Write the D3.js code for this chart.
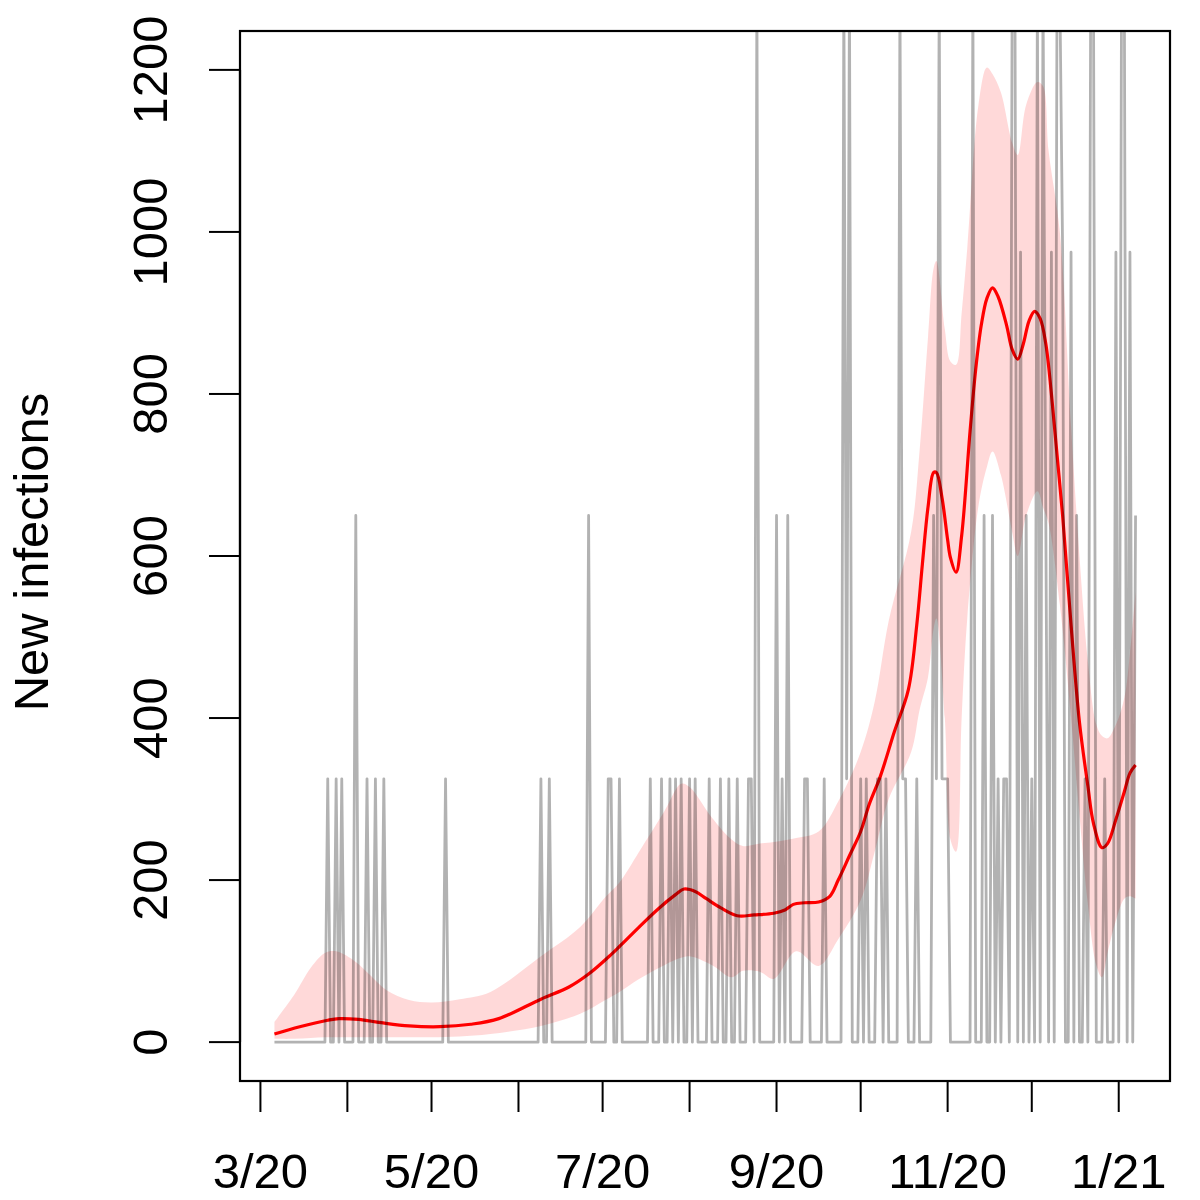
<!DOCTYPE html>
<html>
<head>
<meta charset="utf-8">
<script src="https://cdn.jsdelivr.net/npm/d3@7"></script>
<style>
  body { margin: 0; background: #fff; }
  text { font-family: "Liberation Sans", Arial, sans-serif; }
</style>
</head>
<body>
<div id="chart"></div>
<script>
const width = 1200
const height = 1200
const plot = { left: 240, right: 1170, top: 31, bottom: 1081 }

// first day of the series
const startDate = new Date(Date.UTC(2020, 2, 6))

// daily new infections (one value per day from startDate)
const newInfections = [
  0, 0, 0, 0, 0, 0, 0, 0, 0, 0,
  0, 0, 0, 0, 0, 0, 0, 0, 0, 325,
  0, 0, 325, 0, 325, 0, 0, 0, 0, 650,
  0, 0, 0, 325, 0, 0, 325, 0, 0, 325,
  0, 0, 0, 0, 0, 0, 0, 0, 0, 0,
  0, 0, 0, 0, 0, 0, 0, 0, 0, 0,
  0, 325, 0, 0, 0, 0, 0, 0, 0, 0,
  0, 0, 0, 0, 0, 0, 0, 0, 0, 0,
  0, 0, 0, 0, 0, 0, 0, 0, 0, 0,
  0, 0, 0, 0, 0, 325, 0, 0, 325, 0,
  0, 0, 0, 0, 0, 0, 0, 0, 0, 0,
  0, 0, 650, 0, 0, 0, 0, 0, 0, 325,
  325, 0, 0, 325, 0, 0, 0, 0, 0, 0,
  0, 0, 0, 0, 325, 0, 0, 0, 325, 0,
  0, 325, 0, 325, 0, 325, 0, 0, 325, 0,
  325, 0, 0, 0, 0, 325, 0, 0, 0, 325,
  0, 0, 325, 0, 0, 325, 0, 0, 0, 325,
  325, 0, 1300, 0, 0, 0, 0, 0, 0, 650,
  0, 325, 0, 650, 0, 0, 0, 0, 0, 325,
  325, 0, 0, 0, 0, 0, 325, 0, 0, 0,
  0, 0, 0, 1300, 325, 1300, 0, 0, 0, 325,
  0, 325, 0, 0, 0, 325, 325, 0, 325, 0,
  0, 0, 0, 1300, 325, 325, 0, 0, 0, 325,
  0, 0, 0, 0, 0, 650, 325, 1300, 325, 325,
  325, 0, 0, 0, 0, 0, 0, 0, 0, 1300,
  0, 0, 0, 650, 0, 0, 650, 0, 325, 0,
  325, 325, 0, 1300, 1300, 0, 975, 0, 650, 0,
  325, 0, 1300, 0, 1300, 650, 0, 975, 0, 1300,
  1300, 975, 0, 0, 975, 0, 650, 0, 0, 325,
  0, 1300, 1300, 0, 0, 0, 325, 0, 0, 0,
  975, 0, 1300, 1300, 0, 975, 0, 650
]

// smoothed estimate (days after startDate, value)
const fitDays = [0, 9, 19, 23, 30, 38, 48, 59, 70, 80,
  95, 105, 112, 120, 123, 130, 137, 143, 146, 150,
  154, 159, 165, 171, 178, 182, 185, 189, 194, 198,
  201, 205, 209, 212, 216, 221, 226, 229, 231, 233,
  235, 236, 238, 240, 241, 243, 245, 248, 250, 252,
  254, 256, 258, 261, 263, 265, 267, 269, 271, 273,
  275, 277, 279, 281, 284, 287, 290, 292, 295, 297,
  300, 303, 305, 307]
const fitValues = [10, 19, 27, 29, 28, 24, 20, 19, 22, 29,
  53, 68, 84, 108, 118, 142, 165, 182, 189, 186,
  177, 166, 156, 157, 159, 163, 170, 172, 173, 180,
  200, 230, 260, 293, 328, 383, 435, 515, 590, 660,
  703, 703, 672, 620, 598, 580, 625, 754, 830, 885,
  918, 931, 920, 885, 855, 843, 862, 890, 902, 893,
  862, 800, 725, 650, 515, 395, 316, 270, 240, 245,
  275, 309, 332, 342]

// uncertainty band
const bandDays = [0, 7, 13, 18, 22, 29, 34, 40, 48, 56,
  66, 77, 95, 109, 118, 123, 130, 139, 145, 148,
  156, 163, 167, 173, 178, 186, 194, 201, 209, 214,
  219, 227, 230, 233, 235, 236, 239, 241, 243, 245,
  247, 251, 254, 256, 259, 263, 265, 268, 272, 274,
  276, 280, 284, 287, 290, 293, 295, 297, 300, 303,
  305, 307]
const bandUpper = [25, 58, 92, 110, 112, 99, 83, 64, 52, 49,
  53, 62, 106, 142, 179, 197, 235, 285, 319, 315,
  277, 250, 242, 245, 247, 252, 260, 297, 358, 420,
  520, 630, 730, 870, 955, 964, 880, 840, 836, 900,
  980, 1157, 1203, 1195, 1172, 1110, 1095, 1157, 1185, 1180,
  1100, 1000, 760, 600, 470, 392, 378, 375, 392, 425,
  480, 556]
const bandLower = [4, 4, 5, 6, 6, 6, 6, 6, 6, 6,
  7, 10, 20, 35, 52, 62, 78, 95, 104, 106,
  95, 80, 88, 87, 78, 112, 94, 127, 175, 235,
  300, 358, 410, 450, 510, 523, 400, 250, 235, 400,
  523, 662, 710, 729, 700, 630, 600, 650, 680, 660,
  640, 540, 400, 280, 170, 95, 80, 110, 150, 177,
  180, 177]

const yTicks = [0, 200, 400, 600, 800, 1000, 1200]
const xTickDates = d3.utcMonth.range(new Date(Date.UTC(2020, 2, 1)), new Date(Date.UTC(2021, 0, 2)))
const xTickLabels = ["3/20", "", "5/20", "", "7/20", "", "9/20", "", "11/20", "", "1/21"]

const day = (k) => d3.utcDay.offset(startDate, k)
const firstDay = day(0)
const lastDay = day(newInfections.length - 1)
const pad = (lastDay - firstDay) * 0.04

var xScale = d3.scaleUtc([new Date(+firstDay - pad), new Date(+lastDay + pad)], [plot.left, plot.right])
var yScale = d3.scaleLinear([-48, 1248], [plot.bottom, plot.top])

var svg = d3.select("#chart")
  .append("svg")
  .attr("width", width)
  .attr("height", height)

svg.append("defs")
  .append("clipPath")
  .attr("id", "plotclip")
  .append("rect")
  .attr("x", plot.left)
  .attr("y", plot.top)
  .attr("width", plot.right - plot.left)
  .attr("height", plot.bottom - plot.top)

var inner = svg.append("g").attr("clip-path", "url(#plotclip)")

// band
var band = bandDays.map((k, i) => ({ date: day(k), lo: bandLower[i], hi: bandUpper[i] }))
inner.append("path")
  .datum(band)
  .attr("d", d3.area()
    .x((d) => xScale(d.date))
    .y0((d) => yScale(d.lo))
    .y1((d) => yScale(d.hi))
    .curve(d3.curveCatmullRom.alpha(0.5)))
  .style("fill", "rgba(255,0,0,0.15)")

// smoothed line
var fit = fitDays.map((k, i) => ({ date: day(k), value: fitValues[i] }))
inner.append("path")
  .datum(fit)
  .attr("d", d3.line()
    .x((d) => xScale(d.date))
    .y((d) => yScale(d.value))
    .curve(d3.curveCatmullRom.alpha(0.5)))
  .style("fill", "none")
  .style("stroke", "#ff0000")
  .style("stroke-width", "3.2px")

// daily counts, translucent so the red line shows through darker
var daily = newInfections.map((v, k) => ({ date: day(k), value: v }))
inner.append("path")
  .datum(daily)
  .attr("d", d3.line()
    .x((d) => xScale(d.date))
    .y((d) => yScale(d.value)))
  .style("fill", "none")
  .style("stroke", "rgba(0,0,0,0.3)")
  .style("stroke-width", "2.8px")
  .style("stroke-linejoin", "round")

// box
svg.append("rect")
  .attr("x", plot.left)
  .attr("y", plot.top)
  .attr("width", plot.right - plot.left)
  .attr("height", plot.bottom - plot.top)
  .style("fill", "none")
  .style("stroke", "#000")
  .style("stroke-width", "2.2px")

// x axis
var xAxis = svg.append("g")
xAxis.append("line")
  .attr("x1", xScale(xTickDates[0]))
  .attr("x2", xScale(xTickDates[xTickDates.length - 1]))
  .attr("y1", plot.bottom)
  .attr("y2", plot.bottom)
  .style("stroke", "#000")
  .style("stroke-width", "2.2px")
xAxis.selectAll("line.tick")
  .data(xTickDates)
  .enter()
  .append("line")
  .attr("class", "tick")
  .attr("x1", (d) => xScale(d))
  .attr("x2", (d) => xScale(d))
  .attr("y1", plot.bottom)
  .attr("y2", plot.bottom + 31)
  .style("stroke", "#000")
  .style("stroke-width", "2px")
xAxis.selectAll("text")
  .data(xTickDates)
  .enter()
  .append("text")
  .attr("x", (d) => xScale(d))
  .attr("y", 1188)
  .attr("text-anchor", "middle")
  .style("font-size", "49px")
  .text((_d, i) => xTickLabels[i])

// y axis
var yAxis = svg.append("g")
yAxis.append("line")
  .attr("x1", plot.left)
  .attr("x2", plot.left)
  .attr("y1", yScale(yTicks[0]))
  .attr("y2", yScale(yTicks[yTicks.length - 1]))
  .style("stroke", "#000")
  .style("stroke-width", "2.2px")
yAxis.selectAll("line.tick")
  .data(yTicks)
  .enter()
  .append("line")
  .attr("class", "tick")
  .attr("x1", plot.left - 31)
  .attr("x2", plot.left)
  .attr("y1", (d) => yScale(d))
  .attr("y2", (d) => yScale(d))
  .style("stroke", "#000")
  .style("stroke-width", "2px")
yAxis.selectAll("text")
  .data(yTicks)
  .enter()
  .append("text")
  .attr("transform", (d) => `translate(167,${yScale(d)}) rotate(-90)`)
  .attr("text-anchor", "middle")
  .style("font-size", "49px")
  .text((d) => d)

svg.append("text")
  .attr("transform", "translate(48,552) rotate(-90)")
  .attr("text-anchor", "middle")
  .style("font-size", "49px")
  .text("New infections")
</script>
</body>
</html>
